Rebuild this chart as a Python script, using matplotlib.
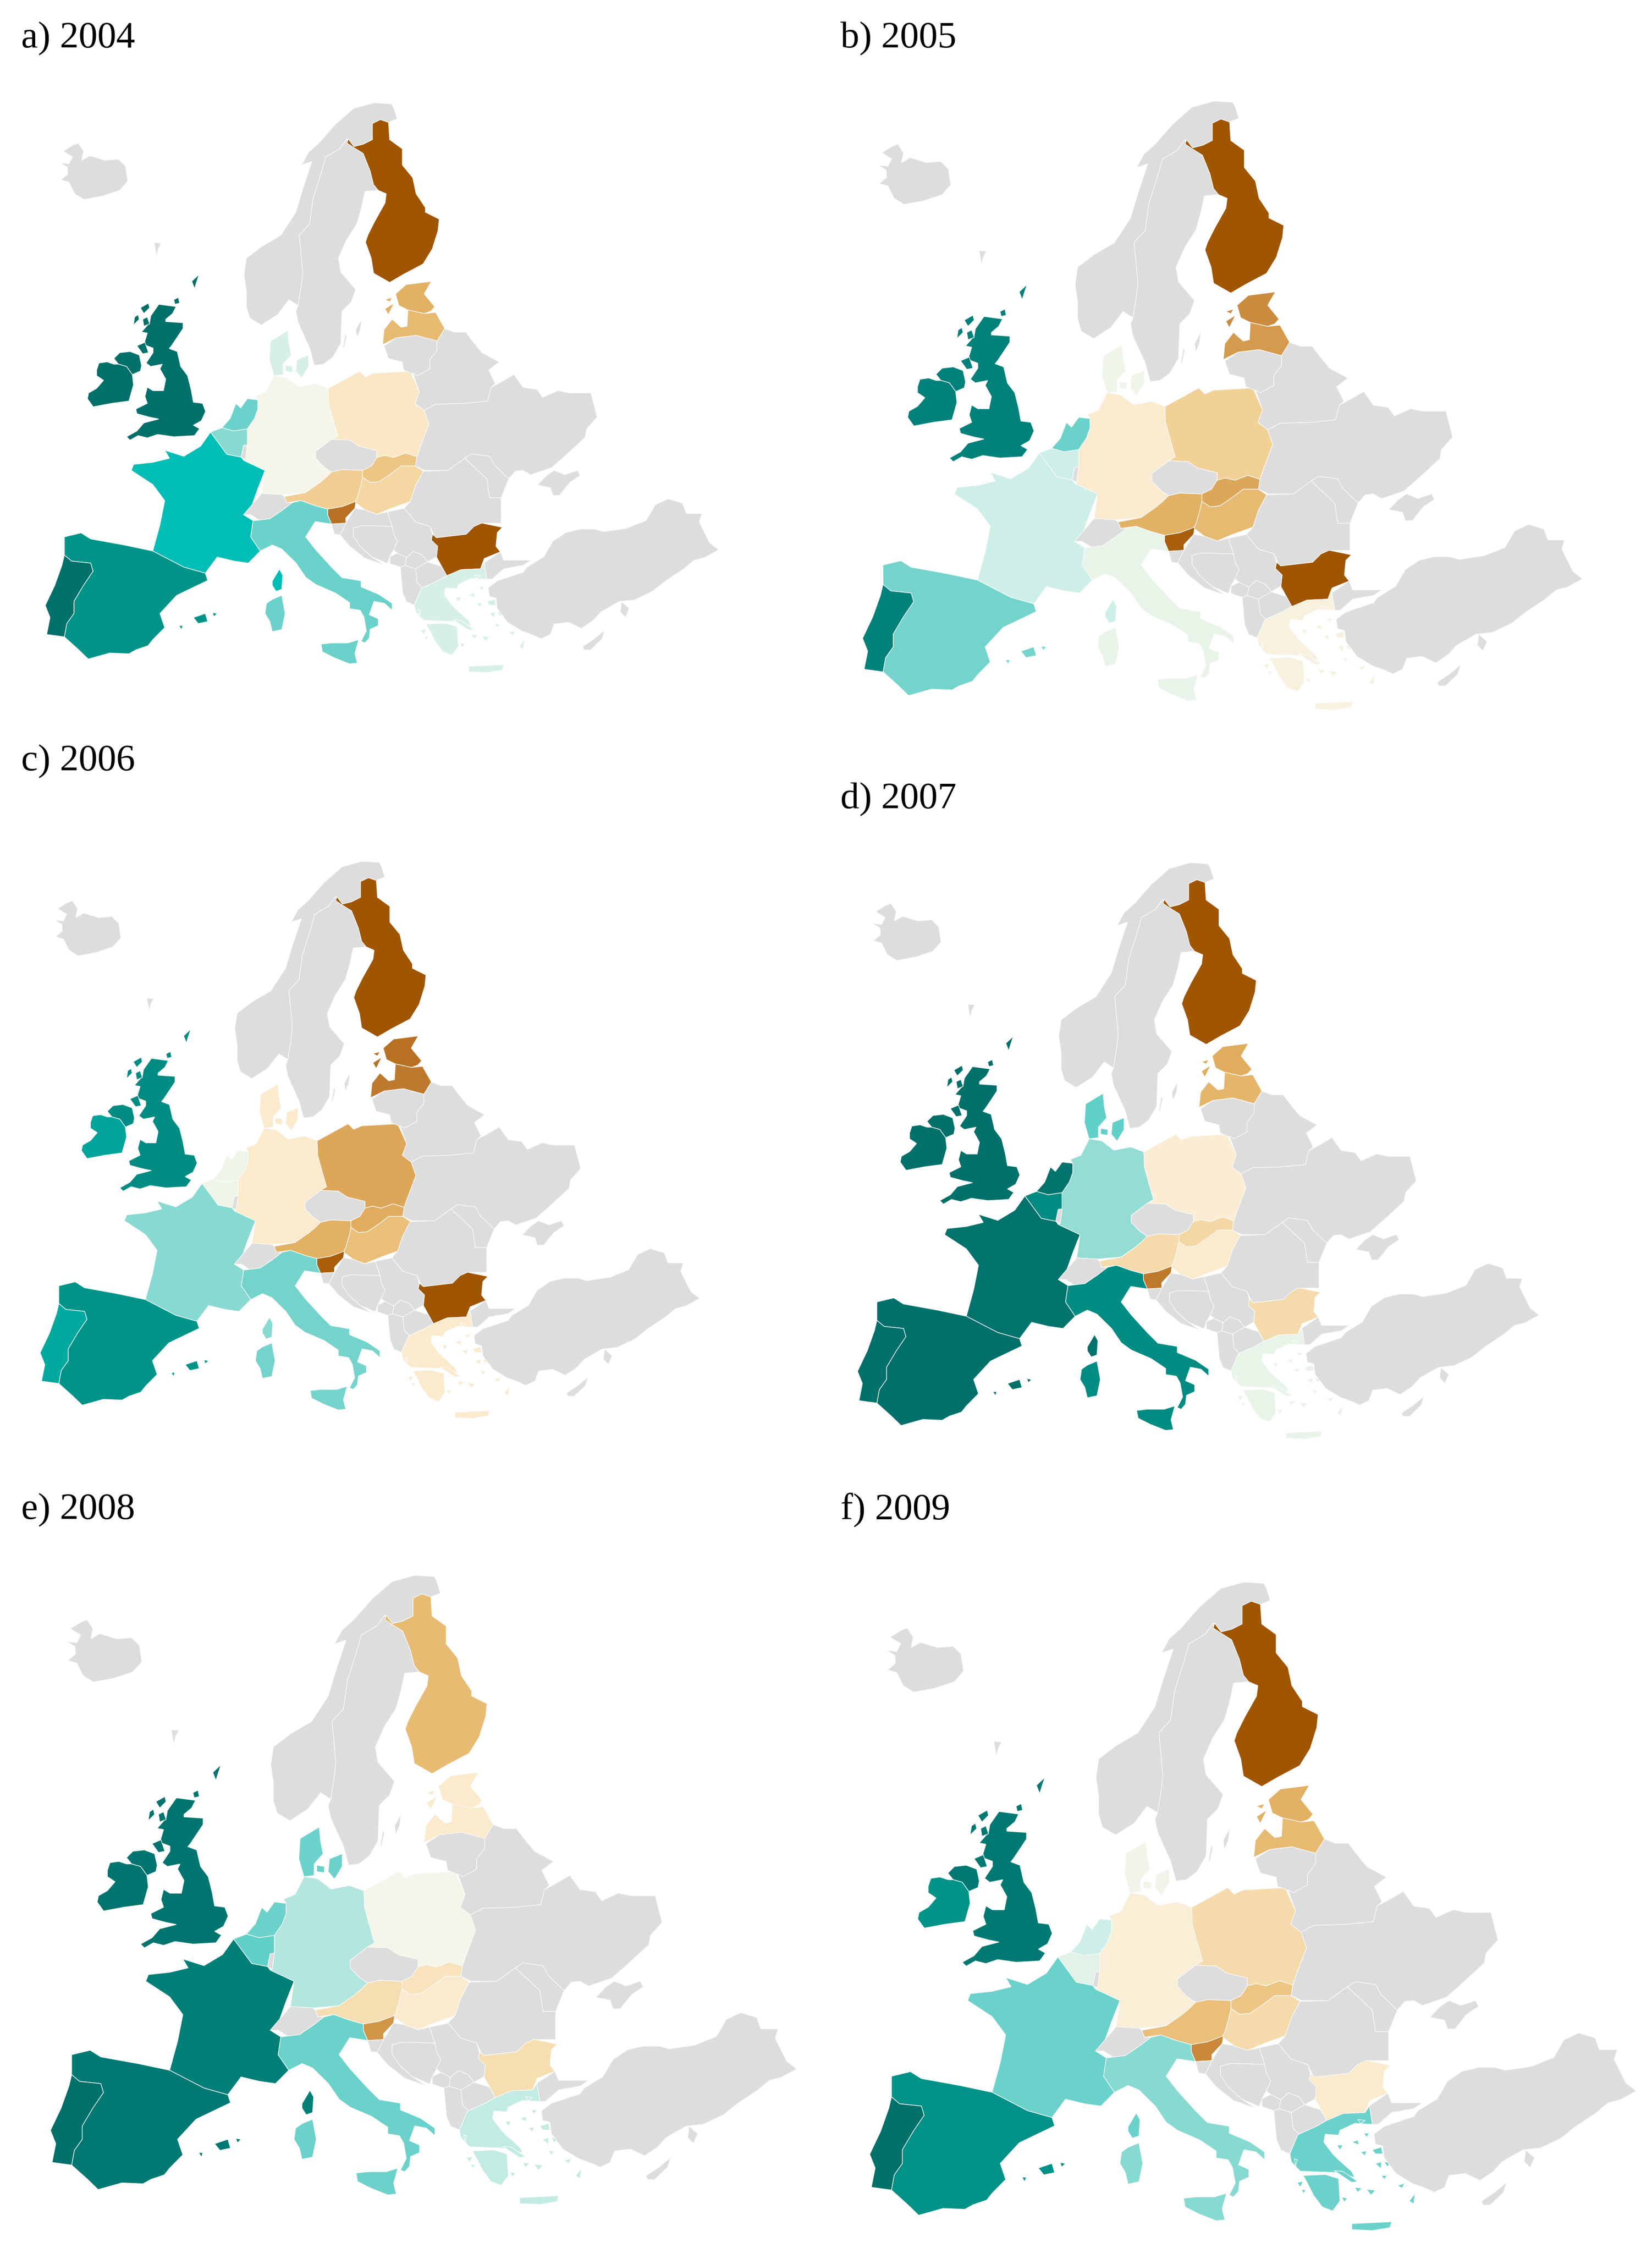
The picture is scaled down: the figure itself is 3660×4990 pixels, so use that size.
import matplotlib
matplotlib.use('Agg')
import matplotlib.pyplot as plt
from matplotlib.colors import LinearSegmentedColormap, Normalize
from matplotlib.patches import Polygon

# countries that carry a value, same order in every year list
countries = ['FI', 'EE', 'LV', 'PL', 'DE', 'DK', 'NL', 'BE', 'FR', 'ES', 'PT', 'IT', 'GR', 'UK', 'IE', 'AT', 'SK', 'HU', 'SI', 'BG']
v2004 = [-1, -0.5, -0.45, -0.15, 0, 0.12, 0.4, 0.33, 0.6, 0.8, 1, 0.4, 0.12, 1, 1, -0.33, -0.38, -0.28, -0.85, -1]
v2005 = [-1, -0.7, -0.62, -0.32, -0.12, 0.03, 0.4, 0.15, 0.15, 0.38, 0.9, 0.05, -0.05, 0.9, 0.9, -0.5, -0.55, -0.45, -0.95, -1]
v2006 = [-1, -0.85, -0.8, -0.55, -0.13, -0.13, 0.03, 0.03, 0.33, 0.8, 0.7, 0.38, -0.13, 0.85, 0.72, -0.5, -0.52, -0.42, -0.95, -1]
v2007 = [-1, -0.52, -0.47, -0.1, 0.3, 0.42, 0.98, 0.85, 0.98, 1, 1, 0.85, 0.05, 1, 1, -0.25, -0.27, -0.13, -0.8, -0.25]
v2008 = [-0.44, -0.13, -0.13, 0, 0.22, 0.4, 0.4, 0.42, 0.92, 0.95, 1, 0.4, 0.18, 0.97, 0.97, -0.22, -0.18, -0.12, -0.65, -0.22]
v2009 = [-1, -0.5, -0.45, -0.25, -0.08, 0.02, 0.15, 0.08, 0.4, 0.82, 1, 0.33, 0.4, 0.95, 0.8, -0.42, -0.38, -0.25, -0.72, -0.13]
years = ['a) 2004', 'b) 2005', 'c) 2006', 'd) 2007', 'e) 2008', 'f) 2009']
year_values = [v2004, v2005, v2006, v2007, v2008, v2009]


def za(pts):
    return [(123 + .482 * x, 44.4 + .5714 * y) for x, y in pts]


def zb(pts):
    return [(661.5 + .482 * x, 44.4 + .5714 * y) for x, y in pts]


def zc(pts):
    return [(661.5 + .542 * x, 862 + .4286 * y) for x, y in pts]


shapes = {
    'NO': [za([(1470,85),(1455,38),(1445,20),(1370,15),(1280,40),(1200,110),(1130,190),(1085,230),(1055,285),(1100,270),(1060,390),(1030,490),(965,590),(880,640),(815,690),(805,760),(815,830),(815,900),(830,950),(880,980),(950,935),(1000,870),(1040,895),(1055,800),(1060,750),(1045,590),(1090,540),(1105,430),(1140,320),(1160,250),(1220,215),(1252,172),(1282,205),(1322,195),(1362,175),(1362,105),(1397,88),(1432,100)])],
    'SE': [za([(1252,172),(1257,190),(1282,210),(1322,235),(1352,310),(1367,370),(1387,395),(1330,400),(1315,470),(1295,540),(1250,610),(1215,690),(1225,750),(1290,825),(1270,880),(1230,920),(1225,1060),(1190,1120),(1150,1150),(1110,1155),(1090,1080),(1040,970),(1030,920),(1040,895),(1055,800),(1060,750),(1045,590),(1090,540),(1105,430),(1140,320),(1160,250),(1220,215)]),
           za([(1290,1000),(1315,955),(1310,1000),(1295,1035)]), za([(1235,1075),(1245,1015),(1250,1030),(1238,1085)])],
    'DK': [za([(995,1005),(1000,1060),(1010,1110),(975,1150),(975,1195),(935,1200),(915,1130),(920,1050)]),
           za([(985,1155),(1015,1160),(1015,1185),(985,1180)]),
           za([(1035,1130),(1085,1110),(1085,1160),(1055,1210),(1030,1180)])],
    'IS': [za([(5,275),(45,280),(60,250),(20,225),(60,200),(85,190),(108,225),(100,265),(135,245),(170,255),(200,265),(260,260),(290,290),(300,355),(265,395),(190,420),(110,435),(70,410),(45,360),(10,350),(40,325),(38,295)])],
    'FO': [za([(415,622),(445,625),(432,650),(425,680)])],
    'UK': [za([(435,890),(510,900),(495,930),(465,955),(465,965),(540,970),(540,995),(510,1040),(490,1070),(480,1082),(515,1095),(530,1160),(560,1200),(575,1260),(585,1315),(625,1320),(638,1355),(620,1395),(585,1415),(612,1430),(590,1460),(500,1465),(430,1455),(385,1470),(345,1460),(310,1480),(295,1465),(340,1440),(370,1405),(435,1388),(395,1380),(340,1365),(335,1345),(385,1320),(375,1290),(385,1250),(410,1265),(455,1265),(465,1215),(440,1170),(450,1150),(400,1160),(380,1145),(410,1100),(410,1080),(370,1065),(385,1015),(360,1010),(395,970),(400,940)]),
           za([(240,1125),(265,1100),(310,1095),(350,1110),(360,1155),(355,1180),(320,1195),(295,1160),(260,1150)]),
           za([(355,905),(390,885),(395,905),(370,930)]), za([(330,945),(345,935),(350,955),(325,980)]),
           za([(365,955),(385,945),(395,975),(370,985)]), za([(340,1070),(375,1055),(390,1100),(365,1105)]),
           za([(578,790),(610,760),(600,790),(590,822)]), za([(500,870),(520,860),(525,885),(505,890)])],
    'IE': [za([(175,1145),(210,1140),(240,1150),(260,1150),(295,1160),(320,1195),(325,1240),(305,1310),(230,1320),(150,1335),(125,1300),(130,1275),(165,1255),(195,1220),(165,1200),(165,1175)])],
    'FR': [[(441,870),(475,925),(505,932),(510,940),(555,965),(540,1010),(525,1060),(510,1075),(530,1090),(525,1130),(545,1165),(520,1195),(490,1190),(455,1180),(430,1220),(385,1205),(320,1165),(335,1100),(345,1040),(320,1000),(275,965),(280,950),(320,945),(355,935),(345,915),(385,930),(420,905)],
           [(570,1240),(585,1210),(592,1225),(590,1260),(578,1265),(570,1250)]],
    'ES': [[(135,1130),(170,1120),(190,1135),(260,1150),(320,1165),(385,1205),(430,1220),(435,1238),(370,1275),(335,1320),(345,1355),(320,1385),(310,1400),(285,1410),(270,1420),(230,1418),(185,1433),(165,1410),(135,1378),(140,1345),(155,1320),(155,1290),(175,1250),(195,1215),(190,1195),(150,1190),(135,1175)],
           [(405,1330),(430,1320),(435,1340),(415,1345)], [(445,1318),(455,1320),(448,1328)], [(375,1350),(383,1350),(380,1360)]],
    'PT': [[(135,1175),(150,1190),(190,1195),(195,1215),(175,1250),(155,1290),(155,1320),(140,1345),(135,1378),(98,1372),(105,1330),(95,1300),(115,1250),(130,1200)]],
    'BE': [[(441,870),(465,859),(489,867),(518,862),(518,902),(510,903),(505,932),(475,925)]],
    'LU': [[(510,903),(518,902),(514,938),(505,932)]],
    'NL': [[(518,787),(540,790),(540,813),(533,836),(518,862),(489,867),(465,859),(482,836),(494,799),(504,810)]],
    'DE': [[(574,730),(600,735),(625,758),(660,750),(687,762),(688,799),(700,850),(707,879),(694,888),(661,918),(661,935),(678,956),(694,969),(683,982),(670,995),(640,1020),(590,1025),(548,1022),(555,965),(510,940),(514,938),(518,902),(518,862),(533,836),(540,813),(540,790),(535,781),(557,770)]],
    'PL': [[(687,762),(753,719),(765,733),(782,724),(859,719),(878,770),(869,799),(888,816),(898,850),(878,913),(873,931),(849,922),(824,933),(805,928),(789,933),(789,916),(751,905),(732,890),(694,888),(707,879),(700,850),(688,799)]],
    'CZ': [[(694,888),(732,890),(751,905),(789,916),(789,933),(778,954),(759,965),(716,963),(694,969),(678,956),(661,935),(661,918)]],
    'SK': [[(789,933),(805,928),(824,933),(849,922),(873,931),(870,954),(840,954),(819,973),(794,993),(775,995),(759,982),(759,965),(778,954)]],
    'HU': [[(754,1008),(756,999),(759,982),(775,995),(794,993),(819,973),(840,954),(870,954),(886,967),(870,1003),(859,1042),(819,1059),(789,1074),(764,1063),(743,1044),(748,1033)]],
    'AT': [[(595,1030),(640,1020),(670,995),(683,982),(694,969),(716,963),(759,965),(759,982),(756,999),(754,1008),(748,1033),(743,1044),(716,1055),(686,1061),(661,1053),(630,1040),(600,1045)]],
    'SI': [[(686,1061),(716,1055),(745,1042),(743,1059),(724,1083),(724,1096),(694,1098),(686,1076)]],
    'CH': [[(510,1075),(548,1022),(590,1025),(595,1030),(600,1045),(612,1045),(590,1065),(565,1085),(545,1090),(525,1075)]],
    'IT': [[(530,1090),(565,1085),(590,1065),(612,1045),(630,1040),(661,1053),(686,1061),(686,1076),(694,1098),(660,1092),(640,1130),(661,1162),(694,1205),(716,1231),(756,1239),(756,1254),(794,1273),(821,1295),(821,1312),(805,1295),(783,1290),(773,1323),(792,1333),(792,1350),(775,1359),(773,1381),(764,1393),(756,1389),(767,1363),(762,1329),(754,1312),(732,1308),(732,1293),(702,1269),(661,1248),(640,1230),(620,1195),(590,1160),(570,1150),(545,1165),(525,1130)],
           [(672,1396),(694,1393),(729,1393),(751,1385),(743,1419),(748,1443),(732,1445),(700,1430),(675,1415)],
           [(558,1295),(570,1285),(590,1275),(597,1320),(590,1360),(570,1365),(565,1340),(555,1320)]],
    'EE': [[(828,527),(850,504),(903,496),(888,527),(910,559),(902,570),(888,576),(854,567),(835,556)],
           [(806,564),(825,550),(813,579)], [(806,541),(821,536),(816,547)]],
    'LV': [[(801,653),(804,616),(821,590),(840,610),(852,607),(854,567),(888,576),(912,573),(931,613),(915,644),(871,630),(830,636)]],
    'LT': [[(804,656),(830,636),(871,630),(915,644),(915,667),(900,690),(900,713),(874,730),(845,716),(842,696),(813,687)]],
    'BY': [[(1045,696),(1009,673),(989,644),(975,622),(951,622),(931,613),(915,644),(915,667),(900,690),(900,713),(874,730),(864,724),(878,770),(869,799),(888,816),(912,801),(970,799),(1021,793),(1028,759),(1037,750),(1023,716)]],
    'UA': [[(888,816),(912,801),(970,799),(1021,793),(1028,759),(1047,747),(1076,727),(1095,759),(1124,764),(1136,784),(1168,767),(1192,773),(1237,773),(1250,833),(1228,862),(1225,883),(1182,930),(1155,958),(1111,976),(1095,965),(1079,967),(1065,986),(1035,952),(1025,930),(987,924),(973,935),(938,965),(889,965),(870,954),(873,931),(878,913),(898,850)]],
    'MD': [[(973,935),(987,924),(1025,930),(1035,952),(1065,986),(1049,1033),(1025,1033),(1019,986)]],
    'RO': [[(886,967),(938,965),(973,935),(1019,986),(1025,1033),(1049,1033),(1049,1096),(1008,1096),(981,1123),(911,1132),(900,1104),(870,1093),(846,1059),(859,1042),(870,1003)]],
    'CR': [zc([(855,325),(890,270),(920,240),(960,265),(1010,240),(1020,270),(980,310),(940,385),(915,385),(905,340)])],
    'BG': [zc([(450,610),(465,630),(580,610),(610,565),(640,545),(720,570),(700,600),(695,680),(712,712),(650,750),(635,810),(560,815),(505,850),(485,795),(465,740),(470,680),(445,645)])],
    'RS': [[(811,1068),(846,1059),(870,1093),(900,1104),(905,1123),(903,1138),(916,1153),(914,1179),(895,1192),(884,1175),(865,1166),(851,1181),(832,1170),(824,1162),(832,1141),(824,1123),(821,1104)]],
    'HR': [[(724,1096),(743,1059),(764,1063),(789,1074),(811,1068),(821,1104),(759,1102),(740,1108),(740,1128),(754,1153),(778,1179),(805,1200),(764,1183),(732,1153),(712,1125)],
           [(694,1098),(724,1096),(712,1125),(700,1123)]],
    'BA': [[(740,1108),(759,1102),(821,1104),(824,1123),(832,1141),(824,1162),(816,1179),(811,1196),(778,1179),(754,1153),(740,1128)]],
    'ME': [[(816,1179),(832,1170),(851,1181),(848,1201),(838,1205),(816,1196)]],
    'XK': [[(851,1181),(865,1166),(884,1175),(895,1192),(870,1209),(848,1201)]],
    'MK': [[(870,1209),(895,1192),(924,1203),(935,1226),(916,1239),(884,1256),(873,1243)]],
    'AL': [[(838,1205),(848,1201),(870,1209),(873,1243),(884,1256),(881,1261),(867,1299),(851,1291),(843,1269)]],
    'GR': [zc([(380,1020),(405,930),(410,920),(470,880),(505,850),(560,815),(635,810),(650,775),(660,870),(600,865),(550,900),(545,925),(500,920),(495,960),(525,1020),(545,1050),(590,1110),(600,1140),(540,1115),(480,1112),(415,1108),(385,1060)]),
           zc([(425,1130),(500,1125),(545,1145),(550,1260),(525,1310),(490,1290),(460,1230),(440,1170)]),
           zc([(590,1375),(725,1365),(720,1395),(660,1410),(590,1405)]),
           zc([(530,1105),(560,1110),(610,1160),(590,1165)]),
           zc([(660,1000),(690,985),(695,1020),(670,1020)]), zc([(670,1070),(690,1060),(690,1095)]), zc([(700,1060),(725,1065),(710,1085)]),
           zc([(785,1260),(805,1220),(800,1275)]), zc([(745,1180),(770,1170),(760,1195)]), zc([(640,1200),(670,1205),(655,1230)]),
           zc([(600,1190),(625,1195),(610,1215)]), zc([(590,960),(610,950),(615,975)]), zc([(620,1010),(640,1005),(635,1030)]),
           zc([(630,915),(650,915),(640,935)]), zc([(610,845),(635,850),(620,865)]), zc([(395,1045),(405,1050),(400,1080)]),
           zc([(405,1165),(425,1160),(415,1190)]), zc([(420,1200),(435,1205),(425,1220)]), zc([(555,1240),(575,1245),(565,1265)]),
           zc([(540,975),(560,975),(550,1000)]), zc([(690,1130),(710,1130),(700,1150)])],
    'TR': [zc([(665,920),(700,880),(800,830),(815,800),(880,740),(915,650),(965,600),(1020,580),(1075,580),(1110,595),(1200,575),(1275,530),(1310,440),(1360,405),(1415,430),(1430,490),(1490,490),(1480,540),(1520,660),(1555,700),(1500,745),(1460,760),(1420,810),(1350,880),(1300,940),(1230,990),(1170,1000),(1100,1060),(1070,1110),(1025,1155),(975,1120),(920,1130),(905,1190),(870,1215),(840,1195),(795,1170),(740,1120),(700,1040),(695,980),(670,970)]),
           zc([(712,712),(725,760),(830,760),(800,790),(725,810),(680,870),(660,870),(650,775)]),
           zc([(1180,1000),(1210,1040),(1195,1090),(1175,1060)])],
    'CY': [zc([(1030,1260),(1075,1215),(1115,1165),(1105,1215),(1060,1280),(1035,1280)])],
    # last, its western arm lies over the Norway and Sweden edges
    'FI': [zb([(245,105),(280,88),(315,100),(320,175),(375,215),(375,285),(420,340),(435,410),(475,470),(475,490),(535,520),(530,570),(505,650),(465,715),(380,760),(320,795),(250,755),(240,690),(215,620),(225,590),(255,530),(300,450),(305,410),(270,395),(250,370),(235,310),(205,235),(165,210),(135,190),(140,172),(165,205),(205,195),(245,175)])],
}

# pixel box of each panel's map in the output: left, right, top, bottom
panels = [(132, 1593, 225, 1490), (1945, 3507, 221, 1573), (120, 1551, 1905, 3142),
          (1932, 3411, 1908, 3188), (147, 1766, 3486, 4883), (1963, 3626, 3501, 4941)]
label_pos = [(47, 105), (1862, 105), (47, 1706), (1862, 1790), (47, 3364), (1862, 3364)]

W, H = 3660, 4990
cmap = LinearSegmentedColormap.from_list('balance', [
    (0.0, '#A05500'), (0.1, '#C07A2E'), (0.25, '#E3B163'), (0.35, '#F3D49C'), (0.44, '#FBEBCE'),
    (0.5, '#F6F6E9'), (0.575, '#CFEFE7'), (0.7, '#6CD2CA'), (0.8, '#00BEB5'), (0.9, '#00958A'), (1.0, '#00706A')])
norm = Normalize(-1, 1)

fig = plt.figure(figsize=(W / 100, H / 100), dpi=100, facecolor='white')

for i in range(len(years)):
    x0, x1, y0, y1 = panels[i]
    ax = fig.add_axes([x0 / W, 1 - y1 / H, (x1 - x0) / W, (y1 - y0) / H])
    ax.set_xlim(125, 1505)
    ax.set_ylim(1467, 50)
    ax.axis('off')
    vals = dict(zip(countries, year_values[i]))
    for name, rings in shapes.items():
        col = cmap(norm(vals[name])) if name in vals else '#DDDDDD'
        for ring in rings:
            ax.add_patch(Polygon(ring, closed=True, facecolor=col, edgecolor='#FAFAFA', linewidth=1.0, clip_on=False))
    fig.text(label_pos[i][0] / W, 1 - label_pos[i][1] / H, years[i], family='Liberation Serif',
             fontsize=60, color='black', ha='left', va='baseline')

fig.savefig('out.png', dpi=100)
